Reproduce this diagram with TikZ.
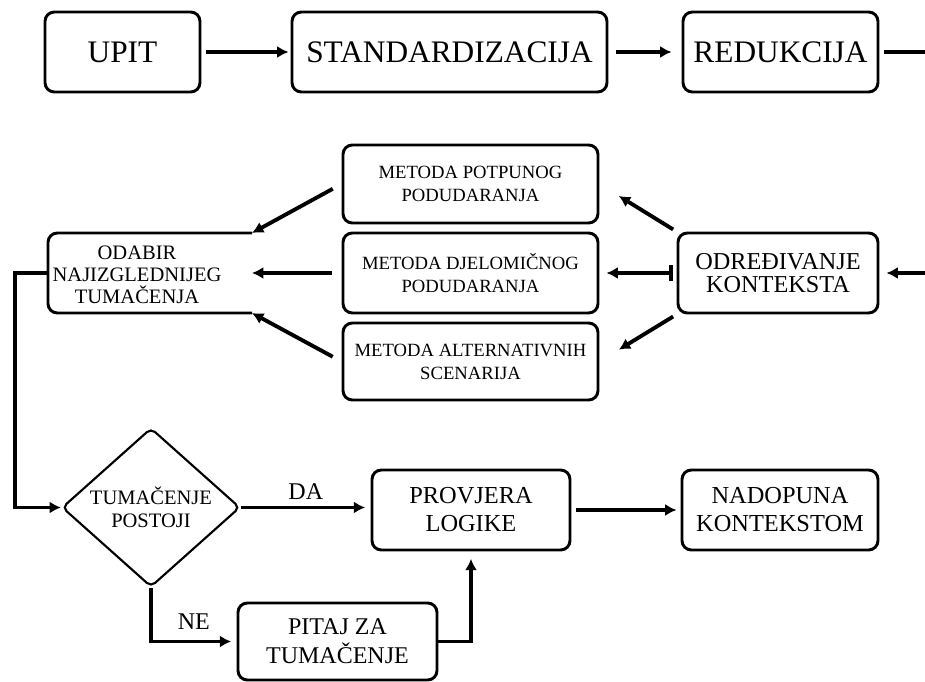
\documentclass[tikz,border=0pt]{standalone}
\usepackage{fontspec}
\setmainfont{Liberation Serif}
\newfontfamily\tnr{Liberation Serif}
\usetikzlibrary{arrows.meta,shapes.geometric}
\newcommand{\fs}[2]{\tnr\fontsize{#1}{#2}\selectfont}

\begin{document}
\begin{tikzpicture}[x=0.75pt,y=-0.75pt,
	box/.style={draw, line width=2.2pt, rounded corners=7pt, align=center, inner sep=0pt},
	flow/.style={line width=2.9pt, -{Latex[length=8.5pt,width=9pt]}},
	lbl/.style={font=\fs{18}{20}}]
			\useasboundingbox (0,0) rectangle (925,682);
			\node [box, minimum width=116.25pt, minimum height=60pt, font=\fs{23.5}{26}] (upit) at (122.5,52) {UPIT};
			\node [box, minimum width=236.25pt, minimum height=60pt, font=\fs{23.5}{26}] (stand) at (449.5,52) {STANDARDIZACIJA};
			\node [box, minimum width=146.25pt, minimum height=60pt, font=\fs{23.5}{26}] (reduk) at (780.5,52) {REDUKCIJA};
			\coordinate (outR) at (925,52);
			\coordinate (inR) at (925,273);
			\node [box, minimum width=191.25pt, minimum height=58.5pt, font=\fs{14}{17.25}] (potpun) at (470.5,184) {METODA POTPUNOG\\PODUDARANJA};
			\node [box, minimum width=191.25pt, minimum height=60pt, font=\fs{14}{17.25}] (djelom) at (470.5,273) {METODA DJELOMIČNOG\\PODUDARANJA};
			\node [box, minimum width=191.25pt, minimum height=57.75pt, font=\fs{14}{17.25}] (altern) at (470.5,361.5) {METODA ALTERNATIVNIH\\SCENARIJA};
			\node [box, minimum width=150pt, minimum height=60pt, font=\fs{18.2}{17.5}] (kontekst) at (778,273) {ODREĐIVANJE\\KONTEKSTA};
			\node [align=center, inner sep=0pt, font=\fs{15.4}{16.5}] (odabir) at (137,275) {ODABIR\\NAJIZGLEDNIJEG\\TUMAČENJA};
			\coordinate (oNE) at (252,233);
			\coordinate (oE) at (252,273);
			\coordinate (oSE) at (252,313);
			\coordinate (oW) at (48,273);
			\draw [line width=2.2pt, rounded corners=7pt] (oNE) -- (48,233) -- (48,313) -- (oSE);
			\node [draw, diamond, aspect=1.12, line width=1.6pt, rounded corners=4pt, inner sep=0pt, minimum width=133.5pt, minimum height=119.25pt, align=center, font=\fs{15.4}{17}] (postoji) at (151,507.5) {TUMAČENJE\\POSTOJI};
			\node [box, minimum width=148.5pt, minimum height=60pt, font=\fs{18.3}{21}] (provjera) at (471,510) {PROVJERA\\LOGIKE};
			\node [box, minimum width=147pt, minimum height=60pt, font=\fs{18.3}{21}] (nadopuna) at (780,510) {NADOPUNA\\KONTEKSTOM};
			\node [box, minimum width=149.25pt, minimum height=57.75pt, font=\fs{18}{21.75}] (pitaj) at (337.5,641.5) {PITAJ ZA\\TUMAČENJE};
			\draw [flow, shorten <=3.75pt, shorten >=1.5pt] (upit) -- (stand);
			\draw [flow, shorten <=6pt, shorten >=7.5pt] (stand) -- (reduk);
			\draw [line width=2.9pt, shorten <=3.75pt] (reduk.east) -- (outR);
			\draw [flow, shorten >=5.25pt] (inR) -- (kontekst.east);
			\draw [flow, shorten <=3pt, shorten >=17pt] (kontekst.north west) -- (potpun.east);
			\draw [line width=2.9pt, {Bar[width=12pt]}-{Latex[length=8.5pt,width=9pt]}, shorten <=3pt, shorten >=5.25pt] (kontekst.west) -- (djelom.east);
			\draw [flow, shorten <=3pt, shorten >=17pt] (kontekst.south west) -- (altern.east);
			\draw [flow, shorten <=7.5pt] (potpun.west) -- (oNE);
			\draw [flow, shorten <=7.5pt] (djelom.west) -- (oE);
			\draw [flow, shorten <=7.5pt] (altern.west) -- (oSE);
			\draw [flow] (oW) -- ++(-33,0) |- (postoji.west);
			\draw [flow, shorten >=4pt] (postoji.east) -- node [lbl, above=1.5pt] (da) {DA} (postoji.east -| provjera.west);
			\draw [flow, shorten >=4pt] (postoji.south) |- node [lbl, pos=0.75, above=4.5pt] (ne) {NE} (pitaj.west);
			\draw [flow, shorten >=5.5pt] (pitaj.east) -| (provjera.south);
			\draw [flow, shorten <=3.75pt, shorten >=3pt] (provjera) -- (nadopuna);
\end{tikzpicture}
\end{document}
